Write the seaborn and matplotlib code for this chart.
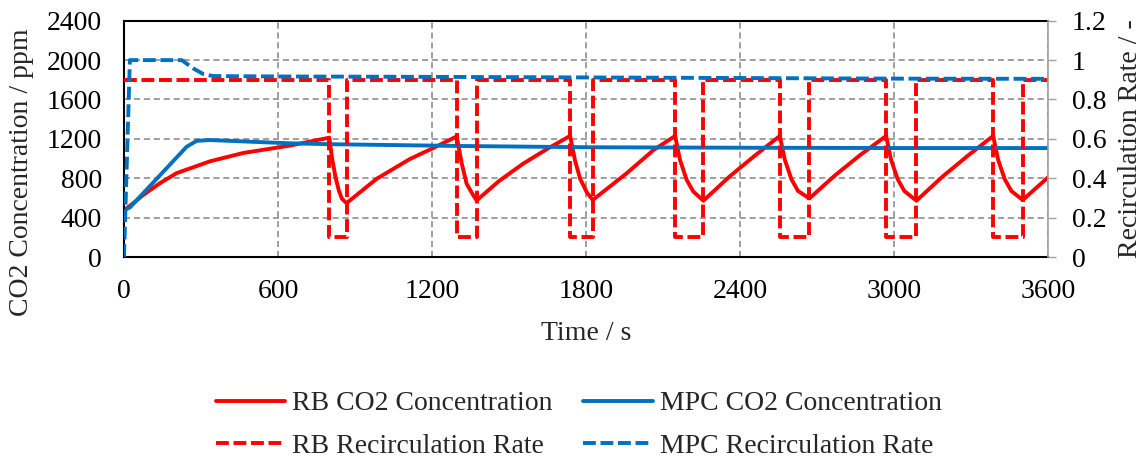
import numpy as np
import pandas as pd
import matplotlib
matplotlib.use("Agg")
import matplotlib.pyplot as plt
from matplotlib.ticker import FuncFormatter, MultipleLocator
import seaborn as sns

# RB (rule based) CO2 concentration
rb_co2_time = [0, 36, 75, 140, 205, 335, 465, 647, 800,
               810, 824, 837, 849, 867,
               984, 1114, 1205, 1296,
               1316, 1335, 1361, 1374,
               1460, 1556, 1650, 1738,
               1757, 1777, 1803, 1826,
               1958, 2062, 2147,
               2166, 2192, 2218, 2257,
               2360, 2460, 2555,
               2574, 2600, 2626, 2670,
               2770, 2870, 2969,
               2988, 3014, 3040, 3087,
               3190, 3290, 3386,
               3405, 3431, 3457, 3501,
               3600]
rb_co2 = [475, 546, 630, 750, 852, 972, 1057, 1132, 1212,
          1013, 810, 676, 592, 547,
          794, 996, 1107, 1225,
          946, 743, 625, 575,
          770, 950, 1100, 1230,
          980, 794, 657, 579,
          850, 1085, 1230,
          986, 783, 664, 572,
          820, 1035, 1230,
          990, 790, 670, 595,
          830, 1040, 1230,
          990, 790, 670, 572,
          820, 1035, 1230,
          990, 790, 670, 579,
          810]

# MPC CO2 concentration
mpc_co2_time = [0, 23, 244, 283, 335, 647, 800, 1300, 1800, 2400, 3000, 3600]
mpc_co2 = [475, 503, 1120, 1180, 1188, 1155, 1146, 1128, 1115, 1110, 1107, 1107]

# RB recirculation rate (switching times)
rb_rr_time = [0, 800, 867, 1296, 1374, 1738, 1826, 2147, 2257, 2555, 2670,
              2969, 3087, 3386, 3501, 3600]
rb_rr = [0.9, 0.1, 0.9, 0.1, 0.9, 0.1, 0.9, 0.1, 0.9, 0.1, 0.9,
         0.1, 0.9, 0.1, 0.9, 0.9]

# MPC recirculation rate
mpc_rr_time = [0, 23, 225, 270, 309, 347, 600, 1200, 1800, 2400, 3000, 3600]
mpc_rr = [0.0, 1.0, 1.0, 0.958, 0.929, 0.919, 0.917, 0.915, 0.912, 0.909, 0.906, 0.905]

red = "#FF0000"
blue = "#0070C0"
dash = (0, (3.3, 1.2))
fs = 20

sns.set_theme(style="white")
plt.rcParams['font.family'] = ['Liberation Serif', 'DejaVu Serif']
plt.rcParams['font.size'] = fs

fig = plt.figure(figsize=(11.48, 4.61), dpi=100)
ax = fig.add_axes([0.108, 0.4425, 0.805, 0.5125])
ax2 = ax.twinx()

# CO2 lines on the left axis
sns.lineplot(x=rb_co2_time, y=rb_co2, ax=ax, color=red,
             label="RB CO2 Concentration", legend=False)
sns.lineplot(x=mpc_co2_time, y=mpc_co2, ax=ax, color=blue,
             label="MPC CO2 Concentration", legend=False)

# recirculation rates on the right axis
sns.lineplot(x=rb_rr_time, y=rb_rr, ax=ax2, color=red,
             drawstyle="steps-post", label="RB Recirculation Rate", legend=False)
sns.lineplot(x=mpc_rr_time, y=mpc_rr, ax=ax2, color=blue,
             label="MPC Recirculation Rate", legend=False)
for ln in ax.get_lines():
    ln.set_linewidth(2.8)
for ln in ax2.get_lines():
    ln.set_linewidth(2.8)
    ln.set_linestyle(dash)

ax.set_xlim(0, 3600)
ax.set_ylim(0, 2400)
ax2.set_ylim(0, 1.2)
ax.xaxis.set_major_locator(MultipleLocator(600))
ax.yaxis.set_major_locator(MultipleLocator(400))
ax2.yaxis.set_major_locator(MultipleLocator(0.2))
ax2.yaxis.set_major_formatter(FuncFormatter(lambda v, p: f"{v:g}"))

# dashed grey grid
ax.grid(True, color="#858585", linestyle=(0, (4, 2.5)), linewidth=1.1)
ax.set_axisbelow(True)

ax.tick_params(axis="x", length=0, pad=16, labelsize=fs, colors="black")
ax.tick_params(axis="y", length=0, pad=16, labelsize=fs, colors="black")
ax2.tick_params(axis="y", length=6, width=1, color="#A0A0A0", pad=11,
                labelsize=fs, labelcolor="black")

for s in ["left", "top", "bottom"]:
    ax.spines[s].set_color("black")
    ax.spines[s].set_linewidth(1.5)
    ax2.spines[s].set_visible(False)
ax.spines["right"].set_visible(False)
ax2.spines["right"].set_color("#A0A0A0")
ax2.spines["right"].set_linewidth(1.2)

ax.set_xlabel("Time / s", fontsize=fs, labelpad=12)
ax.set_ylabel("CO2 Concentration / ppm", fontsize=fs)
ax.yaxis.set_label_coords(-0.097, 0.36)
ax2.set_ylabel("Recirculation Rate / -", fontsize=fs, labelpad=8)

# legend below the plot, two columns
h1, l1 = ax.get_legend_handles_labels()
h2, l2 = ax2.get_legend_handles_labels()
handles = [h1[0], h2[0], h1[1], h2[1]]
labels = [l1[0], l2[0], l1[1], l2[1]]
fig.legend(handles, labels, loc="center", bbox_to_anchor=(0.504, 0.078),
           ncol=2, frameon=False, fontsize=fs, handlelength=2.5,
           handletextpad=0.25, columnspacing=1.1, labelspacing=0.62)

plt.savefig("out.png", dpi=100)
